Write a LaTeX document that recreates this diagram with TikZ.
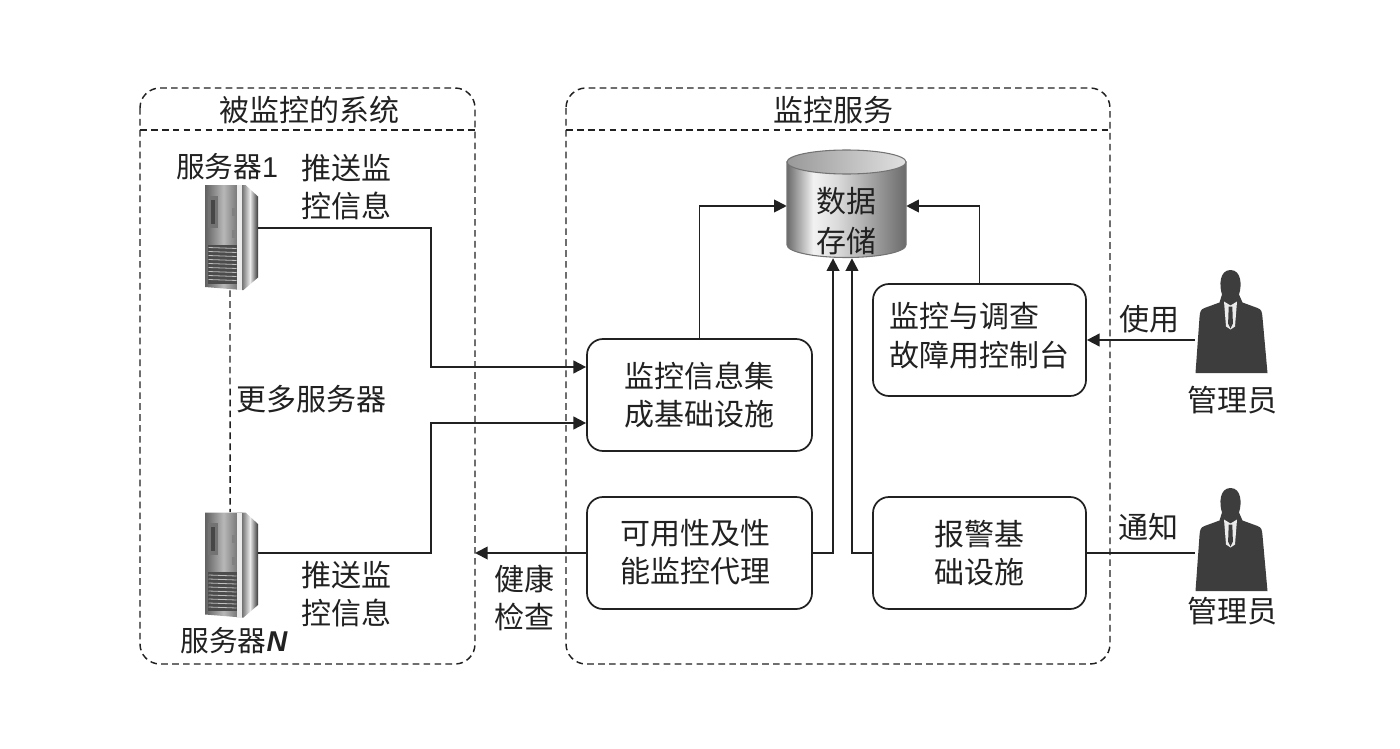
\documentclass[tikz,border=0pt]{standalone}
\usepackage{fontspec}
\setmainfont{Noto Sans CJK SC}
\newfontfamily\latf{Liberation Sans}
\usetikzlibrary{arrows.meta,calc}
\definecolor{ink}{gray}{0.13}
\definecolor{person}{gray}{0.24}
\pgfdeclarehorizontalshading{cylbody}{100bp}{color(0bp)=(black!58); color(25bp)=(black!58); color(36bp)=(black!5); color(46bp)=(black!14); color(75bp)=(black!58); color(100bp)=(black!58)}
\tikzset{
  x=0.75pt,y=-0.75pt,
  every node/.style={text=ink,font=\fontsize{22.5}{29}\selectfont,inner sep=0pt},
  zone/.style={draw=ink,line width=1.1pt,dash pattern=on 5pt off 3.2pt},
  zonerule/.style={draw=ink,line width=1.1pt,dash pattern=on 5pt off 3.2pt},
  proc/.style={draw=ink,line width=1.3pt,rounded corners=12pt,align=center,minimum height=84pt},
  wide/.style={minimum width=168.75pt},
  narrow/.style={minimum width=159.75pt},
  link/.style={draw=ink,line width=1.4pt},
  arrow/.style={link,-{Triangle[length=9.5pt,width=9.5pt]}},
  hostbox/.style={minimum width=39.75pt,minimum height=78.75pt},
  manbox/.style={minimum width=54pt,minimum height=77.25pt},
  lbl/.style={align=center},
  pics/servericon/.style={code={
    \shade[left color=black!62,right color=black!62,middle color=black!28]
      (-26.5,-52.5) -- (10.5,-52.5) -- (10.5,52.5) -- (-26.5,49.5) -- cycle;
    \fill[black!55] (-24,-42) rectangle (-14,-10);
    \fill[black!72] (-21,-38) rectangle (-17,-14);
    \fill[black!70] (-24,7) rectangle (6,46);
    \foreach \v in {10,14,...,44}{\draw[white!75!black,line width=0.6pt] (-23,\v) -- (5,\v+1);}
    \fill[black!50] (0,-30) rectangle (3,-22);
    \fill[black!50] (0,-8) rectangle (3,0);
    \fill[black!8] (5,-52.5) rectangle (10.5,52.5);
    \shade[left color=black!55,right color=black!78,middle color=black!8]
      (10.5,-52.5) -- (14,-52.5) -- (26.5,-41) -- (26.5,40) -- (12,52.5) -- (10.5,52.5) -- cycle;
  }},
  pics/manicon/.style={code={
    \fill[person] (-36,51.5) -- (-32,-4) .. controls (-31.5,-10) and (-31,-12) .. (-27,-13.5)
      -- (-12,-19) -- (-9.5,-27) .. controls (-12.5,-36) and (-12,-51.5) .. (-1,-51.5)
      .. controls (10,-51.5) and (10.5,-36) .. (7.5,-27) -- (11,-19) -- (26,-13.5)
      .. controls (30,-12) and (30.5,-10) .. (31,-4) -- (36,51.5) -- cycle;
    \fill[white!92!black] (-7.5,-20) -- (-1,-16) -- (5.5,-20) -- (3.5,5) -- (-1,8) -- (-5.5,5) -- cycle;
    \fill[person] (-2.8,-15) -- (0.8,-15) -- (1.4,2) -- (-1,7) -- (-3.4,2) -- cycle;
  }},
}
\begin{document}
\begin{tikzpicture}
\useasboundingbox (0,0) rectangle (1400,749);
% zones
\draw[zone,rounded corners=15pt] (140,88) rectangle (475,664);
\draw[zonerule] (140,130) -- (475,130);
\draw[zone,rounded corners=15pt] (566,88) rectangle (1110,664);
\draw[zonerule] (566,130) -- (1110,130);
\node (zl) at (309,110) {被监控的系统};
\node (zr) at (833,110) {监控服务};
% dashed server link under icons
\node[hostbox] (s1) at (231.5,237.5) {};
\node[hostbox] (sn) at (231.5,565) {};
\draw[zonerule] (s1.south) ++(-1.5,0) -- ([xshift=-1.1pt]sn.north);
\pic at (s1.center) {servericon};
\pic at (sn.center) {servericon};
% cylinder
\shade[shading=cylbody,draw=black!55,line width=0.8pt]
  (787,162) -- (787,245) arc[start angle=180,end angle=0,x radius=59.5,y radius=12.5] -- (906,162) -- cycle;
\shade[left color=black!40,right color=black!12,draw=black!55,line width=0.8pt]
  (846.5,162) ellipse [x radius=59.5,y radius=12];
\node[minimum width=89.25pt,minimum height=81pt] (db) at (846.5,204) {};
\node[lbl] (dbt) at (846.5,221) {数据\\[0.5pt]存储};
% process boxes
\node[proc,wide] (hub) at (699.5,395) {监控信息集\\成基础设施};
\node[proc,wide] (agent) at (699.5,553) {};
\node[lbl] (agentt) at (695,552) {可用性及性\\能监控代理};
\node[proc,narrow] (console) at (979.5,340) {};
\node (consolet) at (979,339) {\begin{tabular}{@{}l@{}}监控与调查\\故障用控制台\end{tabular}};
\node[proc,narrow] (alert) at (979.5,553) {报警基\\础设施};
% people
\node[manbox] (m1) at (1231.5,321.5) {};
\node[manbox] (m2) at (1231.5,539.5) {};
\pic at (m1.center) {manicon};
\pic at (m2.center) {manicon};
\node (m1t) at (1232,400) {管理员};
\node (m2t) at (1232,611) {管理员};
% connectors
\draw[arrow] ([yshift=7.1pt]s1.east) -| (431,367) -- ([yshift=21pt]hub.west);
\draw[arrow] ([yshift=9pt]sn.east) -| (431,423) -- ([yshift=-21pt]hub.west);
\draw[arrow] (hub.north) |- ([yshift=-1.5pt]db.west);
\draw[arrow] (console.north) |- ([yshift=-1.5pt]db.east);
\draw[arrow] (m1.west |- console.east) -- (console.east);
\coordinate (zledge) at (475,553);
\draw[arrow] (agent.west) -- (zledge);
\draw[arrow] (agent.east) -| ([xshift=-10.1pt]db.south);
\draw[arrow] (alert.west) -| ([xshift=4.1pt]db.south);
\draw[link] (alert.east) -- (m2.west |- alert.east);
% labels
\node (s1t) at (227,167) {\fontsize{21.5}{24}\selectfont 服务器\latf 1};
\node (snt) at (234,641) {\fontsize{21.5}{24}\selectfont 服务器{\latf\itshape\bfseries N}};
\node[lbl] (p1) at (346.5,187) {推送监\\控信息};
\node[lbl] (p2) at (346.5,594) {推送监\\控信息};
\node (more) at (311,399) {更多服务器};
\node[lbl] (hc) at (524,598) {健康\\检查};
\node (use) at (1149,319) {使用};
\node (notify) at (1148,527) {通知};
\end{tikzpicture}
\end{document}
